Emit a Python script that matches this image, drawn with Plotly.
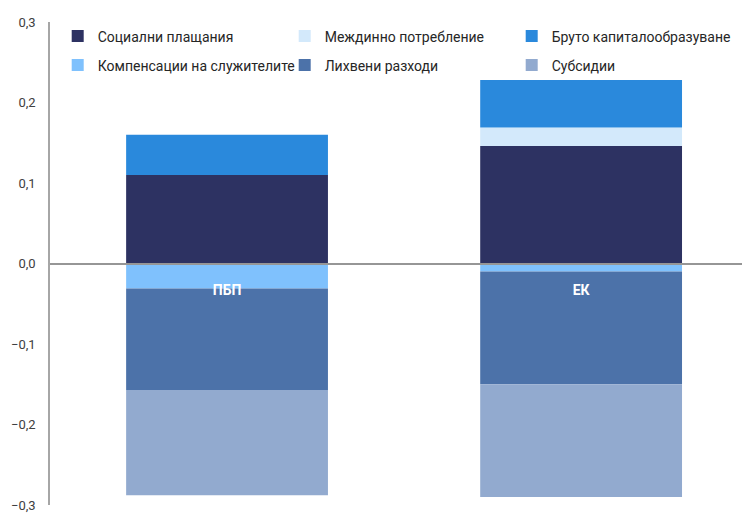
import plotly.graph_objects as go

categories = ["ПБП", "ЕК"]

social = [0.110, 0.146]
intermediate = [0.0, 0.023]
capital = [0.050, 0.059]
compensation = [-0.031, -0.010]
interest = [-0.126, -0.140]
subsidies = [-0.131, -0.140]

_SERIES = [
    ("Социални плащания", social, "#2D3262", "legend"),
    ("Междинно потребление", intermediate, "#D3E9FB", "legend"),
    ("Бруто капиталообразуване", capital, "#2A89DC", "legend"),
    ("Компенсации на служителите", compensation, "#7FC1FD", "legend2"),
    ("Лихвени разходи", interest, "#4C72A9", "legend2"),
    ("Субсидии", subsidies, "#92AACF", "legend2"),
]

FONT = "Roboto, Noto Sans, sans-serif"

fig = go.Figure()
for name, vals, color, leg in _SERIES:
    fig.add_trace(go.Bar(x=categories, y=vals, name=name, legend=leg,
                         marker=dict(color=color, line=dict(width=0)),
                         width=0.57))

legend_common = dict(orientation="h", xanchor="left", yanchor="middle",
                     entrywidth=182, bgcolor="rgba(0,0,0,0)",
                     font=dict(family=FONT, size=14, color="#262626"),
                     itemclick=False, itemdoubleclick=False)

# the page body keeps its default 8px margin, so the figure is 8px smaller
fig.update_layout(
    barmode="relative",
    width=742, height=506,
    margin=dict(l=42, r=0, t=14, b=9),
    paper_bgcolor="white", plot_bgcolor="white",
    separators=", ",
    font=dict(family=FONT, size=13, color="#404040"),
    legend=dict(x=0.011, y=0.97, **legend_common),
    legend2=dict(x=0.011, y=0.91, **legend_common),
    xaxis=dict(range=[-0.5, 1.477], anchor="free", position=0.5,
               showline=True, linecolor="#969696", linewidth=1.5,
               ticks="", showgrid=False, zeroline=False,
               tickfont=dict(family=FONT, size=14, color="white", weight="bold"),
               ticklabelstandoff=14),
    yaxis=dict(range=[-0.3, 0.3], dtick=0.1, tickformat=".1f",
               showline=True, linecolor="#A6A6A6", linewidth=1.5,
               ticks="", showgrid=False, zeroline=False,
               ticklabelstandoff=10,
               tickfont=dict(family=FONT, size=13, color="#404040")),
)

fig.write_html("out.html")
